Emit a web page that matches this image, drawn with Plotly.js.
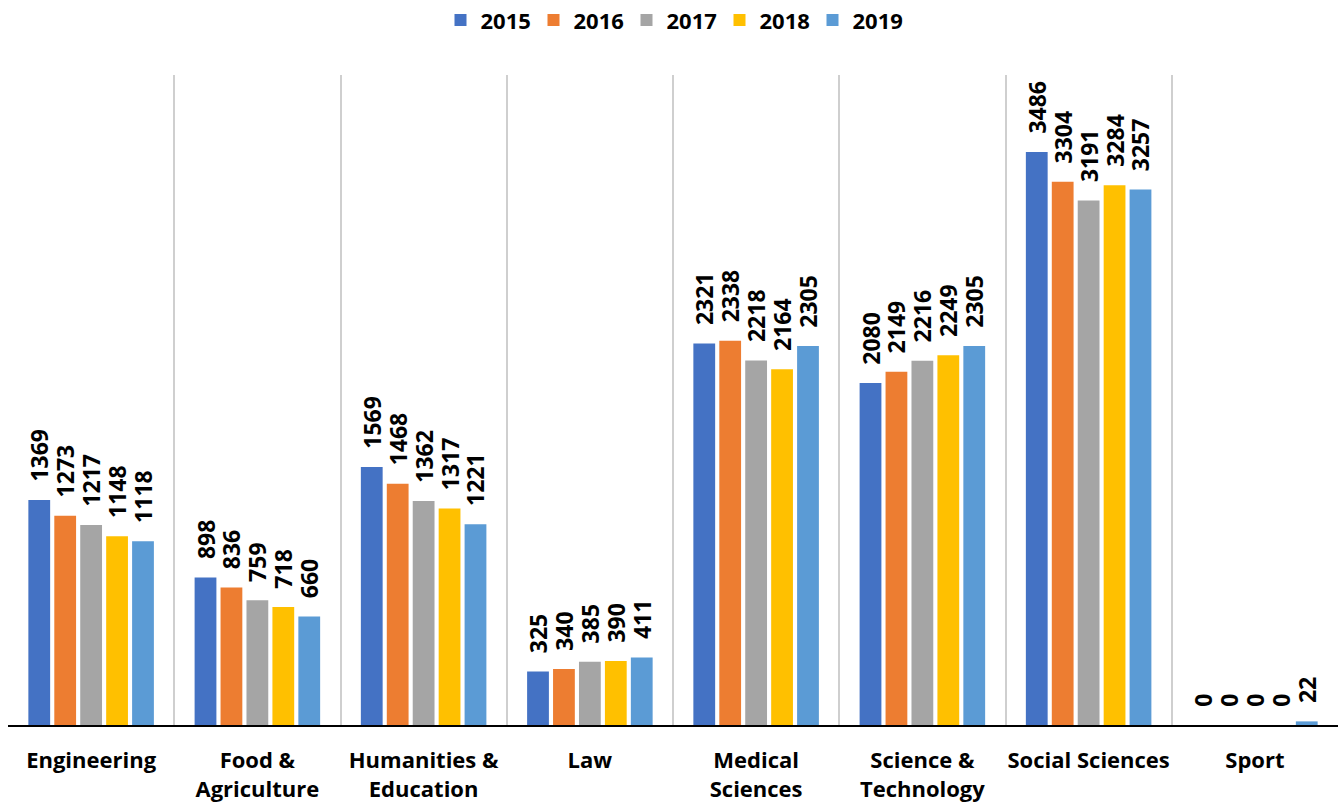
<!DOCTYPE html>
<html>
<head>
<meta charset="utf-8">
<script src="https://cdn.plot.ly/plotly-3.0.1.min.js"></script>
<style>html,body{margin:0;padding:0;background:#fff;}#chart{width:1344px;height:806px;}</style>
</head>
<body>
<div id="chart"></div>
<script>
const categories = ["Engineering", "Food &<br>Agriculture", "Humanities &<br>Education", "Law", "Medical<br>Sciences", "Science &<br>Technology", "Social Sciences", "Sport"];
const years = ["2015", "2016", "2017", "2018", "2019"];
const v2015 = [1369, 898, 1569, 325, 2321, 2080, 3486, 0];
const v2016 = [1273, 836, 1468, 340, 2338, 2149, 3304, 0];
const v2017 = [1217, 759, 1362, 385, 2218, 2216, 3191, 0];
const v2018 = [1148, 718, 1317, 390, 2164, 2249, 3284, 0];
const v2019 = [1118, 660, 1221, 411, 2305, 2305, 3257, 22];
const series = [v2015, v2016, v2017, v2018, v2019];
const colors = ["#4472C4", "#ED7D31", "#A5A5A5", "#FFC000", "#5B9BD5"];

const font = "'Open Sans', Lato, 'DejaVu Sans', sans-serif";
const labelPad = "\u2002\u2009";
const traces = series.map((vals, i) => ({
  type: "bar",
  name: years[i],
  x: categories,
  y: vals,
  text: vals.map(v => labelPad + String(v)),
  textposition: "outside",
  textangle: -90,
  constraintext: "none",
  cliponaxis: false,
  textfont: {family: font, size: 23, color: "#000", weight: "bold"},
  marker: {color: colors[i]},
  hoverinfo: "x+y+name"
}));

const layout = {
  width: 1344, height: 806,
  margin: {l: 8, r: 6, t: 75, b: 81},
  paper_bgcolor: "#fff", plot_bgcolor: "#fff",
  barmode: "group",
  bargap: 0.22,
  bargroupgap: 0.16,
  showlegend: true,
  legend: {orientation: "h", x: 0.5, xanchor: "center", yref: "container", y: 0.975, yanchor: "middle",
           entrywidth: 48, entrywidthmode: "pixels",
           font: {family: font, size: 22, color: "#000", weight: "bold"}, tracegroupgap: 0},
  xaxis: {
    type: "category",
    tickson: "boundaries",
    tickangle: 0,
    showgrid: true, gridcolor: "#cfcfcf", gridwidth: 2,
    showline: true, linecolor: "#000", linewidth: 2,
    ticks: "", ticklen: 0,
    ticklabelstandoff: 15,
    tickfont: {family: font, size: 22, color: "#000", weight: "bold"},
    automargin: false
  },
  yaxis: {
    range: [0, 3954],
    showgrid: false, zeroline: false, showline: false, showticklabels: false, ticks: ""
  }
};

Plotly.newPlot("chart", traces, layout, {displayModeBar: false, staticPlot: true});
</script>
</body>
</html>
